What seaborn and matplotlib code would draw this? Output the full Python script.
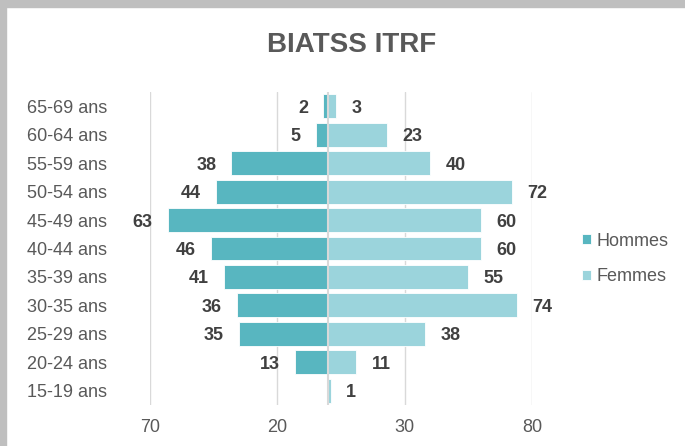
import numpy as np
import pandas as pd
import matplotlib
matplotlib.use("Agg")
import matplotlib.pyplot as plt
from matplotlib.patches import Rectangle
import seaborn as sns

# tranches d'age, du haut vers le bas
ages = ['65-69 ans', '60-64 ans', '55-59 ans', '50-54 ans', '45-49 ans', '40-44 ans',
        '35-39 ans', '30-35 ans', '25-29 ans', '20-24 ans', '15-19 ans']
hommes = [2, 5, 38, 44, 63, 46, 41, 36, 35, 13, 0]
femmes = [3, 23, 40, 72, 60, 60, 55, 74, 38, 11, 1]
xticks = [-70, -20, 30, 80]

col_h = '#58B6C0'
col_f = '#9BD4DC'
grey_txt = '#595959'

sns.set_style('white')
plt.rcParams['font.family'] = ['Liberation Sans', 'DejaVu Sans']

# long format, hommes a gauche (valeurs negatives)
df = pd.concat([
    pd.DataFrame({'age': ages, 'effectif': [-v for v in hommes], 'sexe': 'Hommes'}),
    pd.DataFrame({'age': ages, 'effectif': femmes, 'sexe': 'Femmes'}),
])

fig = plt.figure(figsize=(6.85, 4.46), dpi=100)
W, H = 685, 446
ax = fig.add_axes([150 / W, (H - 405) / H, (532 - 150) / W, (405 - 92) / H])

sns.barplot(data=df, x='effectif', y='age', hue='sexe', order=ages, dodge=False,
            palette={'Hommes': col_h, 'Femmes': col_f}, width=0.84,
            edgecolor='white', linewidth=0.6, saturation=1, ax=ax, zorder=2)

ax.set_xlim(-70, 80)
ax.set_xticks(xticks)
ax.set_xticklabels([str(abs(t)) for t in xticks])
ax.set_xlabel('')
ax.set_ylabel('')
ax.grid(axis='x', color='#D9D9D9', lw=1, zorder=0)
ax.set_axisbelow(True)
ax.axvline(0, color='#D9D9D9', lw=1.5, zorder=3)
for s in ax.spines.values():
    s.set_visible(False)
ax.tick_params(axis='y', length=0, pad=31, labelsize=13, labelcolor=grey_txt)
ax.tick_params(axis='x', length=0, pad=10, labelsize=13, labelcolor=grey_txt)

# etiquettes de donnees
for cont in ax.containers:
    labs = ['' if v == 0 else '%d' % abs(v) for v in cont.datavalues]
    txts = ax.bar_label(cont, labels=labs, padding=11, fontsize=13, fontweight='bold', color='#404040')
    for t in txts:
        t.set_va('center_baseline')

sns.move_legend(ax, 'center left', bbox_to_anchor=(573 / W, 1 - 259 / H),
                bbox_transform=fig.transFigure, frameon=False, title=None,
                fontsize=13, handlelength=0.5, handleheight=0.5, handletextpad=0.3,
                labelspacing=1.05, borderpad=0)
for t in ax.get_legend().get_texts():
    t.set_color(grey_txt)

fig.text(352 / W, 1 - 45 / H, 'BIATSS ITRF', ha='center', va='center',
         fontsize=20, fontweight='bold', color=grey_txt)

# cadre gris en haut et a gauche
fig.patches.append(Rectangle((0, 1 - 7 / H), 1, 7 / H, transform=fig.transFigure,
                             color='#BFBFBF', zorder=0))
fig.patches.append(Rectangle((0, 0), 6 / W, 1, transform=fig.transFigure,
                             color='#BFBFBF', zorder=0))

fig.savefig('out.png', dpi=100)
